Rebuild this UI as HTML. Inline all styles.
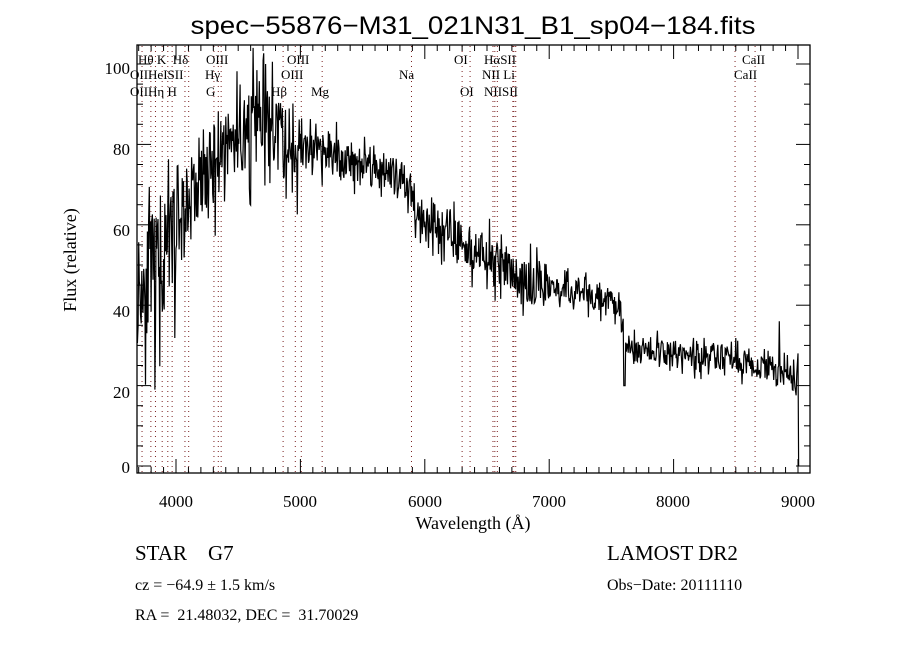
<!DOCTYPE html>
<html><head><meta charset="utf-8"><style>
html,body{margin:0;padding:0;background:#fff}
svg text{font-family:"Liberation Serif",serif;fill:#000;white-space:pre}
.sn{font-family:"Liberation Sans",sans-serif}
</style></head><body>
<svg id="s" width="900" height="650" xmlns="http://www.w3.org/2000/svg">
<rect width="900" height="650" fill="#fff"/>
<text x="473" y="34" font-size="25" text-anchor="middle" style="font-family:'Liberation Sans',sans-serif" textLength="565" lengthAdjust="spacingAndGlyphs">spec−55876−M31_021N31_B1_sp04−184.fits</text>
<g id="lines"></g>
<g id="ticks" stroke="#000" stroke-width="1"></g>
<path id="spec" fill="none" stroke="#000" stroke-width="1.2"/>
<rect x="137" y="45" width="673" height="428" fill="none" stroke="#000" stroke-width="1.3"/>
<g id="lbl" font-size="13"></g>
<g font-size="17" text-anchor="middle" class="sn" style="font-family:'Liberation Sans',sans-serif">
<text x="176" y="507">4000</text><text x="300" y="507">5000</text><text x="425" y="507">6000</text>
<text x="549" y="507">7000</text><text x="673" y="507">8000</text><text x="798" y="507">9000</text>
</g>
<g font-size="17" text-anchor="end" style="font-family:'Liberation Sans',sans-serif">
<text x="130" y="473">0</text><text x="130" y="398">20</text><text x="130" y="317">40</text>
<text x="130" y="236">60</text><text x="130" y="155">80</text><text x="130" y="74">100</text>
</g>
<text x="473" y="529" font-size="18" text-anchor="middle">Wavelength (Å)</text>
<text transform="translate(76,260) rotate(-90)" font-size="18" text-anchor="middle">Flux (relative)</text>
<text x="135" y="560" font-size="21">STAR    G7</text>
<text x="135" y="590" font-size="16">cz = −64.9 ± 1.5 km/s</text>
<text x="135" y="620" font-size="16">RA =  21.48032, DEC =  31.70029</text>
<text x="607" y="560" font-size="21">LAMOST DR2</text>
<text x="607" y="590" font-size="16">Obs−Date: 20111110</text>
</svg>
<script>
var X=function(l){return 176+(l-4000)*0.1244},Y=function(f){return 466-4.02*f};
var ns="http://www.w3.org/2000/svg";
function el(p,t,a,txt){var e=document.createElementNS(ns,t);for(var k in a)e.setAttribute(k,a[k]);if(txt)e.textContent=txt;p.appendChild(e);return e}
var tk=document.getElementById('ticks');
for(var l=3700;l<=9000;l+=100){var x=X(l),h=(l%1000==0)?14:6;el(tk,'line',{x1:x,y1:473,x2:x,y2:473-h});el(tk,'line',{x1:x,y1:45,x2:x,y2:45+h});}
for(var f=0;f<=100;f+=5){var y=Y(f),h=(f%20==0)?14:6;el(tk,'line',{x1:137,y1:y,x2:137+h,y2:y});el(tk,'line',{x1:810,y1:y,x2:810-h,y2:y});}
var L=[3727,3798,3835,3889,3934,3969,4072,4102,4305,4340,4363,4861,4959,5007,5175,5893,6300,6364,6548,6563,6583,6708,6716,6731,8494,8655];
var lg=document.getElementById('lines');
L.forEach(function(l){var x=X(l);el(lg,'line',{x1:x,y1:46,x2:x,y2:472,stroke:'#7a2020','stroke-width':1,'stroke-dasharray':'1,4'})});
var lb=document.getElementById('lbl');
[[138,64,'Hθ K  Hδ'],[206,64,'OIII'],[287,64,'OIII'],[454,64,'OI'],[484,64,'HαSII'],[742,64,'CaII'],
[130,79,'OIIHeISII'],[205,79,'Hγ'],[281,79,'OIII'],[399,79,'Na'],[482,79,'NII Li'],[734,79,'CaII'],
[130,96,'OIIHη H'],[206,96,'G'],[271,96,'Hβ'],[311,96,'Mg'],[460,96,'OI'],[484,96,'NIISII']].forEach(function(a){el(lb,'text',{x:a[0],y:a[1]},a[2])});
var seed=11;function r(){seed=(seed*16807)%2147483647;return seed/2147483647}
var K=[[3690,45],[3800,48],[3900,50],[4000,60],[4200,70],[4400,80],[4700,85],[4900,80],[5100,78],[5400,76],[5700,73],[5850,70],[5950,64],[6200,58],[6500,52],[6800,46],[7100,44],[7500,41],[7580,38],[7620,28],[7800,29],[8000,28],[8400,27],[8800,24],[8950,22],[9000,20]];
function base(l){for(var i=0;i<K.length-1;i++)if(l<=K[i+1][0]){var t=(l-K[i][0])/(K[i+1][0]-K[i][0]);return K[i][1]+t*(K[i+1][1]-K[i][1])}return 20}
var d='';for(var l=3690;l<=8990;l+=5){var a=l<4100?16:l<5000?11:l<6000?5.5:l<7000?6:3.5;var f=base(l)+(r()-0.5)*2*a*(r()<0.2?1.7:0.9);
if(Math.abs(l-7605)<6)f=20;if(Math.abs(l-8850)<4)f=36;if(Math.abs(l-4620)<5)f=104;if(Math.abs(l-4720)<4)f=100;if(Math.abs(l-3830)<5)f=19;
if(f<3)f=3;d+=(d?'L':'M')+X(l).toFixed(1)+','+Y(f).toFixed(1)}
d+='L'+X(9000)+','+Y(28)+'L'+X(9005)+','+Y(0);
document.getElementById('spec').setAttribute('d',d);
</script>
</body></html>
